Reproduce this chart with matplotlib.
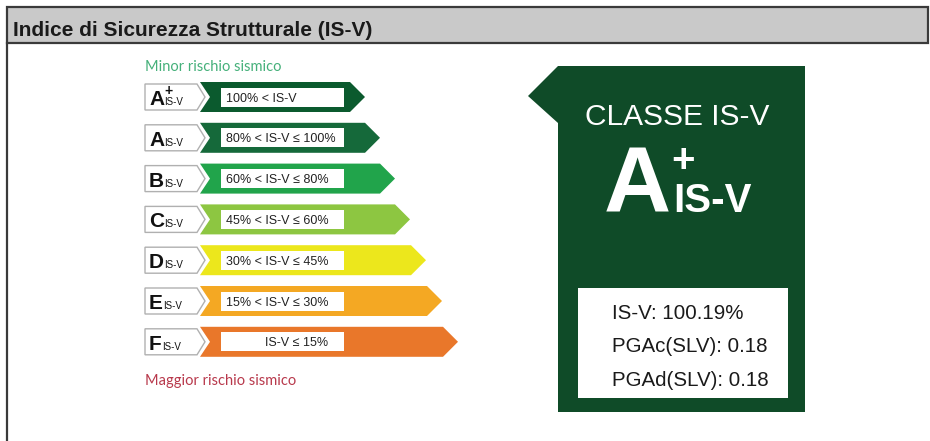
import matplotlib
matplotlib.use("Agg")
import matplotlib.pyplot as plt
from matplotlib.patches import Polygon, Rectangle

# classes of the seismic index scale (top = lowest risk)
classes = ["A+", "A", "B", "C", "D", "E", "F"]
ranges = ["100% < IS-V", "80% < IS-V ≤ 100%", "60% < IS-V ≤ 80%",
          "45% < IS-V ≤ 60%", "30% < IS-V ≤ 45%", "15% < IS-V ≤ 30%",
          "IS-V ≤ 15%"]
bar_end = [365, 380, 395, 410, 426, 442, 458]

# result of the building
result_class = "A+"
is_v = 100.19
pga_c = 0.18
pga_d = 0.18

# styles
band_colors = ["#0b5a2e", "#15693a", "#21a44b", "#8dc641", "#ece71c", "#f4a823", "#e9772a"]
panel_color = "#0f4b28"
sans = ["Liberation Sans", "DejaVu Sans"]

fig = plt.figure(figsize=(9.3, 4.41), dpi=100)
ax = fig.add_axes([0, 0, 1, 1])
ax.set_xlim(0, 930)
ax.set_ylim(441, 0)
ax.axis("off")

# header bar and frame
ax.add_patch(Rectangle((7, 7), 921, 36, facecolor="#c9c9c9", edgecolor="#3a3a3a", lw=1.6))
ax.plot([7, 7], [43, 441], color="#3a3a3a", lw=1.6)
ax.text(13, 36, "Indice di Sicurezza Strutturale (IS-V)", fontsize=15, fontweight="bold",
        family=sans, color="#1a1a1a", va="baseline")

ax.text(145, 71, "Minor rischio sismico", fontsize=10.5, family=["Lato", "DejaVu Sans"],
        color="#45b07a", va="baseline")
ax.text(145, 385, "Maggior rischio sismico", fontsize=10.5, family=["Lato", "DejaVu Sans"],
        color="#b8394c", va="baseline")

# scale rows
for i, cls in enumerate(classes):
    yc = 97 + 40.8 * i
    end = bar_end[i]
    band = [(200, yc - 15), (end - 15, yc - 15), (end, yc), (end - 15, yc + 15),
            (200, yc + 15), (210, yc)]
    ax.add_patch(Polygon(band, closed=True, facecolor=band_colors[i], edgecolor="none"))
    ax.add_patch(Rectangle((221, yc - 9.5), 123, 19, facecolor="white", edgecolor="none"))
    tx = 265 if cls == "F" else 226
    ax.text(tx, yc + 4.5, ranges[i], fontsize=9, family=sans, color="#222222", va="baseline")

    box = [(145, yc - 13), (197, yc - 13), (205, yc), (197, yc + 13), (145, yc + 13)]
    ax.add_patch(Polygon(box, closed=True, facecolor="white", edgecolor="#b0b0b0", lw=1.0))
    letter = ax.text(149, yc + 8, cls[0], fontsize=15, fontweight="bold", family=sans,
                     color="#111111", va="baseline")
    ax.annotate("IS-V", xy=(1, yc + 8), xycoords=(letter, "data"), xytext=(0.3, 0),
                textcoords="offset points", fontsize=7, family=sans, color="#111111",
                va="baseline", ha="left")
    if cls.endswith("+"):
        ax.annotate("+", xy=(1, yc - 1.5), xycoords=(letter, "data"), xytext=(0.2, 0),
                    textcoords="offset points", fontsize=10, fontweight="bold",
                    family=sans, color="#111111", va="baseline", ha="left")

# result panel
panel = [(558, 66), (805, 66), (805, 412), (558, 412), (558, 123), (528, 96)]
ax.add_patch(Polygon(panel, closed=True, facecolor=panel_color, edgecolor="none"))
ax.text(677, 125, "CLASSE IS-V", fontsize=21.5, family=sans, color="white",
        ha="center", va="baseline")
ax.text(604, 212, result_class[0], fontsize=67, fontweight="bold", family=sans,
        color="white", va="baseline")
ax.text(673, 212, "IS-V", fontsize=29, fontweight="bold", family=sans, color="white",
        va="baseline")
if result_class.endswith("+"):
    ax.text(683, 172, "+", fontsize=29, fontweight="bold", family=sans, color="white",
            ha="center", va="baseline")

ax.add_patch(Rectangle((578, 288), 210, 110, facecolor="white", edgecolor="none"))
info = [f"IS-V: {is_v:.2f}%", f"PGAc(SLV): {pga_c:.2f}", f"PGAd(SLV): {pga_d:.2f}"]
for k, line in enumerate(info):
    ax.text(612, 319 + 33.5 * k, line, fontsize=14.8, family=sans, color="#1a1a1a",
            ha="left", va="baseline")

fig.savefig("out.png", dpi=100, facecolor="white")
